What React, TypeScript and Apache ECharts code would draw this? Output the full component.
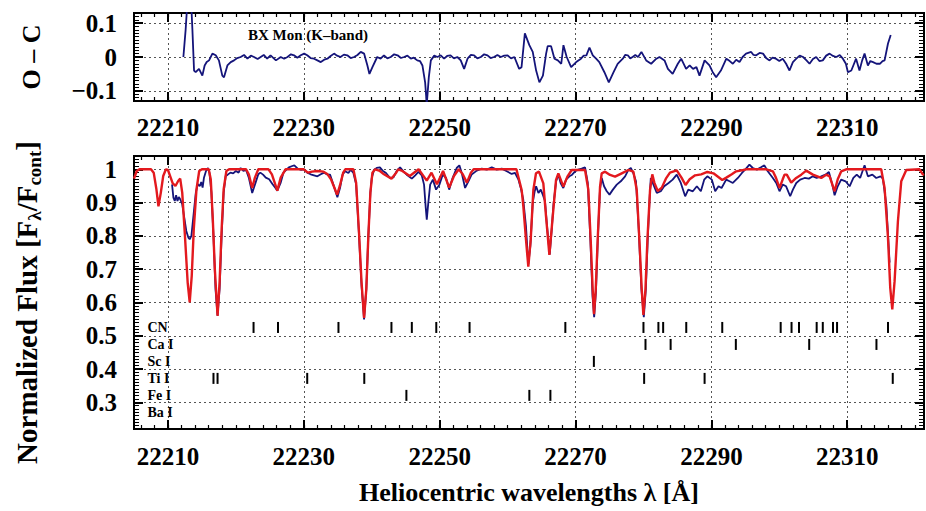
import React, { useEffect, useRef } from 'react';
import * as echarts from 'echarts';

const FONT = '"Liberation Serif", "Times New Roman", serif';
const BLUE = '#14147a';
const RED = '#e3191e';

const X_MIN = 22205;
const X_MAX = 22321.3;
const OC_MIN = -0.13;
const OC_MAX = 0.13;
const FLUX_MIN = 0.22;
const FLUX_MAX = 1.04;

const xMajorTicks = [22210, 22230, 22250, 22270, 22290, 22310];
const ocMajorTicks = [-0.1, 0, 0.1];
const fluxMajorTicks = [0.3, 0.4, 0.5, 0.6, 0.7, 0.8, 0.9, 1];

function stepTicks(from: number, to: number, step: number, dec: number): number[] {
  const out: number[] = [];
  const n = Math.round((to - from) / step);
  for (let i = 0; i <= n; i++) out.push(Number((from + i * step).toFixed(dec)));
  return out;
}
const xMinorTicks = stepTicks(22206, 22320, 2, 0);
const ocMinorTicks = stepTicks(-0.13, 0.13, 0.01, 2);
const fluxMinorTicks = stepTicks(0.22, 1.04, 0.01, 2);

// Synthetic model spectrum (red): [wavelength, normalized flux]
const modelSpectrum: [number, number][] = [
  [22205.0, 0.972], [22205.4, 0.995], [22205.8, 1.0], [22207.5, 1.0], [22207.9, 0.99], [22208.3, 0.94],
  [22208.6, 0.889], [22208.95, 0.93], [22209.3, 0.98], [22209.7, 1.0], [22210.0, 0.998], [22210.4, 0.975],
  [22210.7, 0.958], [22211.1, 0.95], [22211.5, 0.965], [22211.8, 0.972], [22212.1, 0.93], [22212.5, 0.8],
  [22212.9, 0.66], [22213.2, 0.6], [22213.5, 0.68], [22213.8, 0.82], [22214.2, 0.94], [22214.6, 0.995],
  [22215.0, 1.0], [22216.0, 1.0], [22216.3, 0.97], [22216.6, 0.85], [22216.9, 0.7], [22217.3, 0.56],
  [22217.6, 0.66], [22217.9, 0.82], [22218.2, 0.94], [22218.6, 0.995], [22219.0, 1.0], [22221.5, 1.0],
  [22221.9, 0.985], [22222.4, 0.944], [22222.8, 0.975], [22223.3, 1.0], [22224.8, 1.0], [22225.3, 0.985],
  [22226.1, 0.936], [22226.6, 0.975], [22227.3, 1.0], [22230.0, 1.0], [22230.6, 0.99], [22231.2, 0.993],
  [22232.0, 0.995], [22232.9, 0.993], [22233.5, 0.985], [22234.0, 0.97], [22234.4, 0.95], [22234.9, 0.924],
  [22235.3, 0.95], [22235.8, 0.99], [22236.1, 1.0], [22237.3, 1.0], [22237.7, 0.96], [22238.1, 0.82],
  [22238.5, 0.66], [22238.87, 0.554], [22239.2, 0.64], [22239.5, 0.8], [22239.8, 0.93], [22240.1, 0.99],
  [22240.5, 1.0], [22241.2, 0.995], [22241.8, 0.985], [22242.9, 0.972], [22243.6, 0.99], [22243.9, 1.0],
  [22244.5, 0.995], [22245.6, 0.98], [22246.9, 1.0], [22248.1, 0.966], [22248.8, 0.99], [22249.6, 0.955],
  [22250.5, 0.995], [22251.4, 0.945], [22252.1, 0.98], [22252.8, 1.0], [22253.4, 0.985], [22254.0, 0.96],
  [22254.6, 0.99], [22255.0, 1.0], [22261.3, 1.0], [22262.07, 0.938], [22262.32, 0.888], [22262.71, 0.788],
  [22263.05, 0.708], [22263.4, 0.788], [22263.79, 0.938], [22264.18, 0.988], [22264.62, 0.993], [22265.26, 0.958],
  [22265.66, 0.858], [22266.15, 0.743], [22266.64, 0.858], [22267.13, 0.968], [22267.47, 0.988], [22268.21, 0.948],
  [22268.8, 0.978], [22269.44, 0.998], [22271.4, 0.998], [22271.89, 0.938], [22272.23, 0.788], [22272.53, 0.638],
  [22272.72, 0.565], [22272.97, 0.638], [22273.26, 0.788], [22273.61, 0.948], [22273.85, 0.988], [22274.35, 0.993],
  [22275.08, 0.983], [22275.82, 0.978], [22276.8, 0.988], [22277.78, 0.998], [22278.52, 0.993], [22279.01, 0.938],
  [22279.4, 0.788], [22279.75, 0.638], [22279.99, 0.563], [22280.29, 0.638], [22280.58, 0.788], [22280.97, 0.938],
  [22281.3, 0.985], [22281.6, 0.96], [22282.1, 0.935], [22282.7, 0.945], [22283.3, 0.972], [22283.9, 0.99],
  [22284.9, 0.997], [22285.6, 0.975], [22286.2, 0.953], [22286.8, 0.97], [22287.6, 0.982], [22288.5, 0.985],
  [22289.4, 0.992], [22290.3, 0.988], [22291.6, 0.968], [22292.2, 0.975], [22293.0, 0.985], [22293.65, 0.994],
  [22294.7, 0.998], [22295.13, 1.0], [22298.07, 1.0], [22299.05, 0.994], [22299.5, 0.975], [22300.03, 0.944],
  [22300.5, 0.97], [22300.77, 0.984], [22301.1, 0.984], [22301.75, 0.96], [22302.49, 0.974], [22303.23, 0.984],
  [22303.96, 0.996], [22304.94, 0.984], [22306.17, 0.974], [22306.91, 0.984], [22307.4, 0.979], [22307.8, 0.955],
  [22308.14, 0.934], [22308.6, 0.97], [22309.12, 0.994], [22309.85, 1.0], [22315.0, 1.0], [22315.5, 0.944],
  [22316.0, 0.794], [22316.33, 0.644], [22316.63, 0.579], [22316.97, 0.664], [22317.46, 0.844], [22317.95, 0.964],
  [22318.69, 0.998], [22320.65, 1.0], [22321.14, 0.984], [22321.3, 0.986],
];

// Observed spectrum of BX Mon (blue)
const observedSpectrum: [number, number][] = [
  [22210.6, 0.955], [22210.8, 0.915], [22211.0, 0.905], [22211.2, 0.922], [22211.4, 0.905], [22211.6, 0.917],
  [22211.8, 0.91], [22212.1, 0.895], [22212.4, 0.855], [22212.7, 0.815], [22213.0, 0.795], [22213.2, 0.79],
  [22213.45, 0.8], [22213.8, 0.87], [22214.1, 0.93], [22214.4, 0.955], [22214.7, 0.95], [22214.9, 0.962],
  [22215.1, 0.945], [22215.3, 0.975], [22215.6, 0.995], [22215.9, 1.004], [22216.1, 0.99], [22216.4, 0.93],
  [22216.7, 0.8], [22217.0, 0.64], [22217.3, 0.56], [22217.6, 0.64], [22217.9, 0.8], [22218.2, 0.93],
  [22218.5, 0.98], [22218.8, 0.984], [22219.2, 0.99], [22219.6, 0.988], [22220.0, 0.995], [22220.4, 0.99],
  [22220.7, 1.004], [22221.1, 0.995], [22221.5, 0.998], [22221.9, 0.975], [22222.4, 0.929], [22222.9, 0.96],
  [22223.3, 0.985], [22223.6, 0.99], [22224.0, 0.984], [22224.4, 0.975], [22224.9, 0.97], [22225.4, 0.955],
  [22225.8, 0.945], [22226.1, 0.936], [22226.6, 0.96], [22227.0, 0.99], [22227.3, 0.996], [22227.8, 1.006],
  [22228.3, 1.01], [22228.6, 1.012], [22229.1, 1.002], [22229.6, 0.998], [22230.0, 1.0], [22230.5, 0.99],
  [22231.0, 0.985], [22231.5, 0.982], [22232.0, 0.979], [22232.5, 0.985], [22233.0, 0.99], [22233.5, 0.984],
  [22233.86, 0.984], [22234.35, 0.954], [22234.94, 0.916], [22235.33, 0.944], [22235.7, 0.984], [22236.07, 0.994],
  [22236.56, 0.989], [22236.9, 0.999], [22237.3, 0.989], [22237.7, 0.955], [22238.1, 0.81], [22238.5, 0.65],
  [22238.87, 0.549], [22239.2, 0.64], [22239.5, 0.8], [22239.8, 0.93], [22240.0, 0.974], [22240.34, 0.999],
  [22240.73, 1.004], [22241.2, 1.006], [22241.6, 0.996], [22242.1, 0.989], [22242.7, 0.974], [22243.2, 0.976],
  [22243.7, 0.996], [22244.17, 1.006], [22244.66, 0.994], [22245.25, 0.982], [22245.9, 0.972], [22246.4, 0.982],
  [22246.87, 0.992], [22247.36, 0.982], [22247.7, 0.954], [22247.95, 0.884], [22248.1, 0.849], [22248.3, 0.894],
  [22248.6, 0.954], [22249.0, 0.969], [22249.47, 0.939], [22249.96, 0.954], [22250.45, 0.984], [22250.94, 0.974],
  [22251.4, 0.939], [22251.9, 0.974], [22252.5, 1.004], [22252.9, 1.012], [22253.25, 0.989], [22253.74, 0.944],
  [22254.23, 0.964], [22254.7, 0.984], [22255.46, 0.996], [22256.2, 1.002], [22256.93, 0.999], [22257.67, 1.006],
  [22258.4, 0.999], [22259.14, 1.002], [22259.88, 0.994], [22260.6, 0.986], [22261.1, 0.989], [22261.6, 0.969],
  [22261.94, 0.944], [22262.3, 0.91], [22262.7, 0.83], [22263.05, 0.715], [22263.35, 0.77], [22263.7, 0.9],
  [22264.0, 0.935], [22264.2, 0.949], [22264.54, 0.929], [22264.88, 0.939], [22265.18, 0.924], [22265.5, 0.905],
  [22265.8, 0.83], [22266.2, 0.744], [22266.5, 0.82], [22266.75, 0.894], [22267.14, 0.964], [22267.48, 0.984],
  [22267.8, 0.959], [22268.2, 0.944], [22268.6, 0.969], [22269.1, 0.979], [22269.5, 0.984], [22269.94, 0.994],
  [22270.4, 0.999], [22270.9, 1.002], [22271.4, 1.006], [22271.8, 0.96], [22272.2, 0.78], [22272.5, 0.62],
  [22272.74, 0.556], [22273.0, 0.63], [22273.3, 0.8], [22273.6, 0.94], [22273.86, 0.974], [22274.2, 0.949],
  [22274.6, 0.934], [22275.0, 0.924], [22275.5, 0.939], [22276.07, 0.954], [22276.66, 0.964], [22277.3, 0.979],
  [22277.8, 0.999], [22278.14, 1.004], [22278.5, 0.989], [22278.9, 0.964], [22279.3, 0.82], [22279.7, 0.64],
  [22280.05, 0.556], [22280.35, 0.64], [22280.65, 0.8], [22280.95, 0.93], [22281.08, 0.974], [22281.47, 0.954],
  [22281.96, 0.929], [22282.55, 0.934], [22283.05, 0.949], [22283.7, 0.959], [22284.3, 0.969], [22284.9, 0.984],
  [22285.5, 0.959], [22286.14, 0.919], [22286.6, 0.939], [22287.27, 0.934], [22287.86, 0.949], [22288.45, 0.934],
  [22288.94, 0.969], [22289.4, 0.979], [22290.07, 0.969], [22290.56, 0.934], [22291.05, 0.949], [22291.5, 0.944],
  [22292.18, 0.969], [22292.67, 0.964], [22293.16, 0.959], [22293.9, 0.974], [22294.5, 0.989], [22295.1, 1.002],
  [22295.6, 1.014], [22296.1, 1.004], [22296.7, 0.999], [22297.3, 1.006], [22297.8, 1.012], [22298.3, 0.994],
  [22299.05, 0.974], [22299.55, 0.959], [22300.03, 0.934], [22300.5, 0.954], [22301.0, 0.949], [22301.6, 0.919],
  [22302.0, 0.939], [22302.5, 0.959], [22303.08, 0.969], [22303.72, 0.974], [22304.35, 0.972], [22304.94, 0.979],
  [22305.5, 0.974], [22306.17, 0.979], [22306.8, 0.984], [22307.3, 0.992], [22307.8, 0.954], [22308.14, 0.922],
  [22308.6, 0.949], [22309.1, 0.969], [22309.75, 0.964], [22310.35, 0.949], [22310.9, 0.974], [22311.4, 0.984],
  [22311.9, 0.974], [22312.55, 1.012], [22313.04, 0.979], [22313.7, 0.984], [22314.27, 0.974], [22314.9, 0.979],
  [22315.25, 0.972], [22315.75, 0.894], [22316.14, 0.754], [22316.24, 0.72],
];

// Residuals O - C
const residuals: [number, number][] = [
  [22212.27, 0.0], [22212.6, 0.08], [22212.95, 0.19], [22213.35, 0.19], [22213.6, 0.08], [22213.84, -0.04],
  [22214.08, -0.045], [22214.57, -0.035], [22215.06, -0.055], [22215.4, -0.025], [22215.7, -0.015], [22216.05, -0.01],
  [22216.54, 0.01], [22217.03, 0.005], [22217.5, -0.01], [22218.0, -0.055], [22218.25, -0.06], [22218.75, -0.025],
  [22219.24, -0.015], [22219.73, -0.01], [22220.2, -0.003], [22220.7, 0.0], [22221.2, 0.006], [22221.7, -0.005],
  [22222.2, 0.004], [22222.67, 0.0], [22223.2, -0.006], [22223.65, 0.0], [22224.1, 0.006], [22224.6, -0.005],
  [22225.1, 0.005], [22225.9, -0.01], [22226.6, 0.0], [22227.1, -0.005], [22227.6, 0.0], [22228.1, 0.008],
  [22228.56, 0.005], [22229.05, -0.002], [22229.55, 0.005], [22230.05, 0.01], [22230.5, 0.005], [22231.0, -0.003],
  [22231.5, -0.005], [22232.0, -0.01], [22232.5, -0.015], [22233.0, -0.008], [22233.47, -0.005], [22233.95, 0.003],
  [22234.45, 0.01], [22234.9, 0.004], [22235.4, 0.0], [22235.9, 0.007], [22236.4, 0.005], [22236.9, -0.003],
  [22237.4, 0.0], [22237.9, 0.006], [22238.38, 0.015], [22238.87, 0.01], [22239.36, -0.025], [22239.66, -0.05],
  [22240.1, -0.03], [22240.8, 0.0], [22241.3, -0.005], [22241.8, 0.005], [22242.3, -0.004], [22242.8, 0.0],
  [22243.3, 0.008], [22243.8, 0.005], [22244.3, -0.003], [22244.76, 0.0], [22245.25, 0.004], [22245.75, -0.005],
  [22246.2, -0.002], [22246.7, -0.01], [22247.1, -0.012], [22247.46, -0.025], [22247.86, -0.075], [22248.1, -0.14],
  [22248.4, -0.06], [22248.7, -0.01], [22249.2, 0.004], [22249.67, 0.0], [22250.15, 0.005], [22250.65, -0.005],
  [22251.1, 0.003], [22251.6, 0.005], [22252.1, -0.004], [22252.6, 0.0], [22253.1, -0.01], [22253.6, -0.035],
  [22254.1, -0.005], [22254.6, 0.006], [22255.07, 0.005], [22255.55, -0.004], [22256.06, 0.0], [22256.55, 0.008],
  [22257.04, 0.005], [22257.5, -0.003], [22258.0, 0.0], [22258.5, 0.006], [22259.0, 0.0], [22259.5, 0.004],
  [22260.0, 0.005], [22260.5, -0.004], [22261.0, 0.0], [22261.7, -0.035], [22262.05, -0.03], [22262.54, 0.07],
  [22263.2, 0.035], [22263.7, 0.015], [22264.2, -0.04], [22264.68, -0.075], [22265.2, -0.055], [22265.67, 0.01],
  [22265.9, 0.032], [22266.4, 0.032], [22266.9, -0.005], [22267.4, -0.01], [22267.9, -0.02], [22268.22, 0.035],
  [22268.7, 0.0], [22269.35, -0.03], [22270.1, -0.015], [22270.8, -0.005], [22271.2, 0.004], [22271.6, 0.005],
  [22272.05, 0.028], [22272.54, 0.005], [22273.03, -0.005], [22273.5, -0.015], [22274.25, -0.045], [22274.9, -0.075],
  [22275.6, -0.045], [22276.2, -0.02], [22276.96, -0.005], [22277.3, 0.006], [22277.7, 0.005], [22278.05, -0.004],
  [22278.4, 0.0], [22278.8, 0.006], [22279.2, 0.0], [22279.7, 0.015], [22280.4, -0.01], [22281.13, -0.02],
  [22281.9, -0.005], [22282.36, 0.0], [22283.1, -0.01], [22283.6, -0.035], [22284.3, -0.05], [22285.06, -0.02],
  [22285.55, -0.005], [22286.28, -0.035], [22286.8, -0.025], [22287.3, -0.035], [22287.8, -0.03], [22288.25, -0.055],
  [22289.0, -0.01], [22289.72, -0.025], [22290.2, -0.045], [22290.7, -0.06], [22291.4, -0.04], [22292.2, -0.005],
  [22292.7, -0.012], [22293.16, -0.02], [22293.65, -0.008], [22294.14, -0.015], [22294.6, 0.0], [22295.1, 0.01],
  [22295.86, 0.015], [22296.2, 0.006], [22296.6, 0.005], [22297.1, 0.012], [22297.6, 0.01], [22298.1, -0.004],
  [22298.56, -0.01], [22299.0, -0.002], [22299.5, -0.005], [22300.0, -0.012], [22300.5, -0.005], [22301.0, -0.02],
  [22301.5, -0.04], [22302.0, -0.015], [22302.5, -0.005], [22303.0, 0.004], [22303.5, 0.0], [22304.0, -0.01],
  [22304.45, -0.02], [22304.95, -0.006], [22305.43, 0.0], [22305.9, -0.012], [22306.4, -0.01], [22306.9, 0.004],
  [22307.4, 0.01], [22307.9, 0.003], [22308.4, 0.0], [22308.9, 0.006], [22309.36, -0.005], [22309.8, -0.02],
  [22310.1, -0.045], [22310.6, -0.04], [22311.0, -0.02], [22311.3, -0.005], [22311.8, -0.04], [22312.2, -0.01],
  [22312.55, 0.01], [22313.04, -0.025], [22313.4, -0.012], [22313.8, -0.015], [22314.3, -0.02], [22314.8, -0.02],
  [22315.2, -0.012], [22315.5, -0.01], [22316.0, 0.04], [22316.4, 0.065],
];

// Line identifications (wavelengths, Å)
const speciesNames = ['CN', 'Ca I', 'Sc I', 'Ti I', 'Fe I', 'Ba I'];
const speciesRows = [0.525, 0.474, 0.423, 0.372, 0.321, 0.27];
const cnLines = [22222.6, 22226.2, 22235.1, 22242.9, 22245.9, 22249.5, 22254.4, 22268.5, 22280.0, 22282.2,
  22282.9, 22286.3, 22291.6, 22300.2, 22301.8, 22302.9, 22305.5, 22306.4, 22307.9, 22308.5, 22316.0];
const caLines = [22280.3, 22284.0, 22293.6, 22304.4, 22314.3];
const scLines = [22272.7];
const tiLines = [22216.7, 22217.3, 22230.5, 22238.9, 22280.1, 22289.0, 22316.7];
const feLines = [22245.1, 22263.2, 22266.3];
const baLines: number[] = [];
const speciesLines = [cnLines, caLines, scLines, tiLines, feLines, baLines];
const speciesLabelX = 22206.9;

const tickFont = { fontFamily: FONT, fontWeight: 'bold' as const, fontSize: 25, color: '#000' };

function makeXAxes(gridIndex: number, extra: any) {
  const common = {
    type: 'value', gridIndex, min: X_MIN, max: X_MAX,
    axisLine: { show: false, onZero: false },
    splitLine: { show: false },
    axisLabel: { show: false },
  };
  const minorTick = { show: true, inside: true, length: 4, customValues: xMinorTicks, lineStyle: { color: '#000', width: 1.2 } };
  const majorTick = { show: true, inside: true, length: 9, customValues: xMajorTicks, lineStyle: { color: '#000', width: 2 } };
  return [
    { ...common, position: 'bottom', axisTick: minorTick },
    {
      ...common, position: 'bottom', axisTick: majorTick,
      axisLabel: { show: true, customValues: xMajorTicks, margin: extra.margin, formatter: (v: number) => String(v), ...tickFont },
      splitLine: { show: true, lineStyle: { color: '#555', type: [2, 3], width: 1 } },
      ...(extra.name || {}),
    },
    { ...common, position: 'top', axisTick: minorTick },
    { ...common, position: 'top', axisTick: majorTick },
  ];
}

function makeYAxes(gridIndex: number, min: number, max: number, major: number[], minor: number[], fmt: (v: number) => string, name: any) {
  const common = {
    type: 'value', gridIndex, min, max,
    axisLine: { show: false, onZero: false },
    splitLine: { show: false },
    axisLabel: { show: false },
  };
  const minorTick = { show: true, inside: true, length: 5, customValues: minor, lineStyle: { color: '#000', width: 1 } };
  const majorTick = { show: true, inside: true, length: 9, customValues: major, lineStyle: { color: '#000', width: 2 } };
  return [
    { ...common, position: 'left', axisTick: minorTick },
    {
      ...common, position: 'left', axisTick: majorTick,
      axisLabel: { show: true, customValues: major, margin: 17, formatter: fmt, ...tickFont },
      splitLine: { show: true, lineStyle: { color: '#555', type: [2, 3], width: 1 } },
      ...name,
    },
    { ...common, position: 'right', axisTick: minorTick },
    { ...common, position: 'right', axisTick: majorTick },
  ];
}

export default function App() {
  const ref = useRef<HTMLDivElement>(null);
  useEffect(() => {
    document.body.style.margin = '0';
    if (!ref.current) return;
    const chart = echarts.init(ref.current, undefined, { renderer: 'svg' });
    const markers: [number, number][] = [];
    speciesLines.forEach((arr, i) => arr.forEach((w) => markers.push([w, speciesRows[i]])));

    const option: any = {
      animation: false,
      backgroundColor: '#fff',
      title: {
        text: 'BX Mon (K–band)', left: 243, top: 22,
        textStyle: { fontFamily: FONT, fontWeight: 'bold', fontSize: 15, color: '#000' },
      },
      grid: [
        { left: 134, top: 13, width: 790, height: 88, show: true, borderColor: '#000', borderWidth: 2, backgroundColor: 'transparent' },
        { left: 134, top: 156, width: 790, height: 273, show: true, borderColor: '#000', borderWidth: 2, backgroundColor: 'transparent' },
      ],
      xAxis: [
        ...makeXAxes(0, { margin: 14 }),
        ...makeXAxes(1, {
          margin: 15,
          name: {
            name: 'Heliocentric wavelengths λ [Å]', nameLocation: 'middle', nameGap: 50,
            nameTextStyle: { fontFamily: FONT, fontWeight: 'bold', fontSize: 26, color: '#000' },
          },
        }),
      ],
      yAxis: [
        ...makeYAxes(0, OC_MIN, OC_MAX, ocMajorTicks, ocMinorTicks,
          (v: number) => (v < 0 ? '−' + String(Math.abs(v)) : String(v)),
          {
            name: 'O – C', nameLocation: 'middle', nameGap: 90,
            nameTextStyle: { fontFamily: FONT, fontWeight: 'bold', fontSize: 26, color: '#000' },
          }),
        ...makeYAxes(1, FLUX_MIN, FLUX_MAX, fluxMajorTicks, fluxMinorTicks,
          (v: number) => String(v),
          {
            name: 'Normalized Flux [F{sub|λ}/F{sub|cont}]', nameLocation: 'middle', nameGap: 90,
            nameTextStyle: {
              fontFamily: FONT, fontWeight: 'bold', fontSize: 29, color: '#000', lineHeight: 34,
              padding: [0, 20, 0, 0],
              rich: {
                sub: { fontFamily: FONT, fontWeight: 'bold', fontSize: 19, lineHeight: 17, verticalAlign: 'bottom', color: '#000' },
              },
            },
          }),
      ],
      series: [
        {
          type: 'line', name: 'O–C', xAxisIndex: 1, yAxisIndex: 1, data: residuals,
          showSymbol: false, symbol: 'none', clip: true,
          lineStyle: { color: BLUE, width: 1.8 },
        },
        {
          type: 'line', name: 'observed', xAxisIndex: 5, yAxisIndex: 5, data: observedSpectrum,
          showSymbol: false, symbol: 'none', clip: true, z: 2,
          lineStyle: { color: BLUE, width: 1.8 },
        },
        {
          type: 'line', name: 'model', xAxisIndex: 5, yAxisIndex: 5, data: modelSpectrum,
          showSymbol: false, symbol: 'none', clip: true, z: 3,
          lineStyle: { color: RED, width: 2.4 },
        },
        {
          type: 'scatter', name: 'lines', xAxisIndex: 5, yAxisIndex: 5, data: markers,
          symbol: 'rect', symbolSize: [2, 11], itemStyle: { color: '#000', opacity: 1 }, z: 4,
        },
        {
          type: 'scatter', name: 'species', xAxisIndex: 5, yAxisIndex: 5,
          data: speciesNames.map((n, i) => ({ name: n, value: [speciesLabelX, speciesRows[i]] })),
          symbolSize: 1, itemStyle: { color: '#fff', opacity: 1 }, z: 5,
          label: {
            show: true, position: 'right', distance: 0, formatter: '{b}',
            fontFamily: FONT, fontWeight: 'bold', fontSize: 14, color: '#000', opacity: 1,
          },
        },
      ],
    };
    chart.setOption(option);
    return () => chart.dispose();
  }, []);
  return <div ref={ref} style={{ position: 'absolute', left: 0, top: 0, width: 926, height: 511 }} />;
}
